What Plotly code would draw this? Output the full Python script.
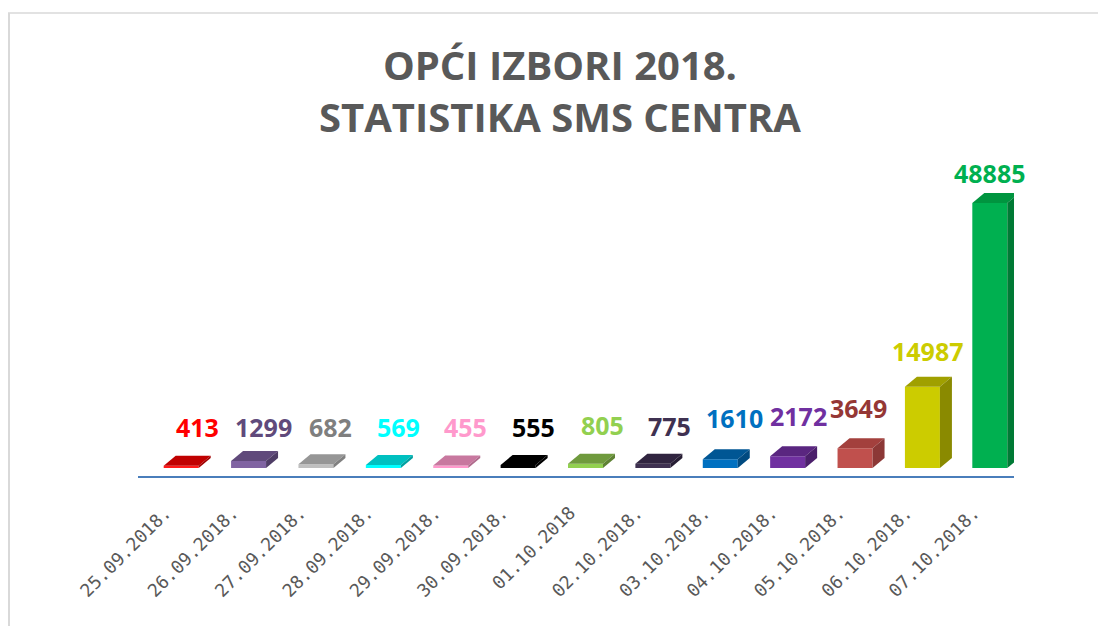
import plotly.graph_objects as go

# ---------------- data ----------------
dates = ["25.09.2018.", "26.09.2018.", "27.09.2018.", "28.09.2018.", "29.09.2018.",
         "30.09.2018.", "01.10.2018", "02.10.2018.", "03.10.2018.", "04.10.2018.",
         "05.10.2018.", "06.10.2018.", "07.10.2018."]
values = [413, 1299, 682, 569, 455, 555, 805, 775, 1610, 2172, 3649, 14987, 48885]
title_lines = ["OPĆI IZBORI 2018.", "STATISTIKA SMS CENTRA"]

# ---------------- styles ----------------
front_colors = ["#ff1a1a", "#8064a2", "#bfbfbf", "#00ffff", "#ff99cc", "#000000", "#92d050",
                "#3f3151", "#0070c0", "#7030a0", "#c0504d", "#cccc00", "#00b050"]
top_colors = ["#c00000", "#604a7b", "#969696", "#00c0c0", "#c8789f", "#000000", "#6f9a3d",
              "#30243f", "#005694", "#5a2680", "#a3403d", "#a0a000", "#00953f"]
side_colors = ["#a00000", "#4f3d66", "#808080", "#00a0a0", "#b06a8c", "#000000", "#5e8234",
               "#261d33", "#004a80", "#4b1f6b", "#8c3836", "#8a8a00", "#007a35"]
label_colors = ["#ff0000", "#604a7b", "#7f7f7f", "#00ffff", "#ff99cc", "#000000", "#92d050",
                "#3f3151", "#0070c0", "#7030a0", "#953735", "#cccc00", "#00b050"]
label_dx_px = [16, 15, 15, 15, 15, 15, 17, 17, 14, 11, 3, 5, 0]
label_gap_px = [27, 22, 25, 26, 27, 26, 27, 26, 29, 28, 28, 24, 18]

OFF = 8  # page body margin
W, H = 1106 - OFF, 626 - OFF
L_PX, R_PX = 138 - OFF, 1014 - OFF
T_PX, B_PX = 150 - OFF, 476 - OFF
PLOT_W = R_PX - L_PX
PLOT_H = B_PX - T_PX
N = len(dates)
PX_PER_CAT = PLOT_W / N
Y_PER_PX = 184.5
FLOOR_PX = 8
y0 = -FLOOR_PX * Y_PER_PX
y1 = y0 + PLOT_H * Y_PER_PX

BAR_SHIFT = 9.5 / PX_PER_CAT
BAR_W = 35 / PX_PER_CAT
DX = 12 / PX_PER_CAT
DY = 10 * Y_PER_PX

xs = list(range(N))

fig = go.Figure()
fig.add_trace(go.Bar(
    x=[x + BAR_SHIFT for x in xs], y=values, width=BAR_W,
    marker=dict(color=front_colors, line=dict(width=0)),
    hoverinfo="skip", showlegend=False,
))

shapes = []
for x, v, tc, sc in zip(xs, values, top_colors, side_colors):
    xa = x + BAR_SHIFT - BAR_W / 2
    xb = x + BAR_SHIFT + BAR_W / 2
    top = f"M {xa},{v} L {xb},{v} L {xb + DX},{v + DY} L {xa + DX},{v + DY} Z"
    side = f"M {xb},0 L {xb + DX},{DY} L {xb + DX},{v + DY} L {xb},{v} Z"
    shapes.append(dict(type="path", path=top, xref="x", yref="y",
                       fillcolor=tc, line=dict(width=0), layer="above"))
    shapes.append(dict(type="path", path=side, xref="x", yref="y",
                       fillcolor=sc, line=dict(width=0), layer="above"))


def px_x(p):
    return (p - OFF - L_PX) / PLOT_W


def px_y(p):
    return (B_PX - (p - OFF)) / PLOT_H


# chart frame (light gray border, top and left)
shapes.append(dict(type="line", xref="paper", yref="paper",
                   x0=px_x(9), x1=px_x(9), y0=px_y(13), y1=px_y(640),
                   line=dict(color="#d9d9d9", width=2)))
shapes.append(dict(type="line", xref="paper", yref="paper",
                   x0=px_x(8), x1=px_x(1120), y0=px_y(13), y1=px_y(13),
                   line=dict(color="#d9d9d9", width=1.5)))

annotations = []
for x, v, c, dxp, gp in zip(xs, values, label_colors, label_dx_px, label_gap_px):
    annotations.append(dict(
        x=x + BAR_SHIFT, y=v, xref="x", yref="y", text=str(v),
        showarrow=False, xanchor="center", yanchor="bottom",
        xshift=dxp, yshift=gp - 7,
        font=dict(family="Open Sans", size=25, color=c, weight="bold"),
    ))

annotations.append(dict(
    x=px_x(560), y=px_y(91), xref="paper", yref="paper",
    text="<br>".join(title_lines),
    showarrow=False, xanchor="center", yanchor="middle", align="center",
    font=dict(family="Open Sans", size=40, color="#595959", weight="bold"),
))

fig.update_layout(
    width=W, height=H,
    margin=dict(l=L_PX, r=W - R_PX, t=T_PX, b=H - B_PX),
    paper_bgcolor="white", plot_bgcolor="white",
    showlegend=False,
    shapes=shapes, annotations=annotations,
    xaxis=dict(
        range=[-0.5, N - 0.5], tickmode="array", tickvals=xs, ticktext=dates,
        tickangle=-45, showgrid=False, zeroline=False, ticks="",
        showline=True, linecolor="#4a7ebb", linewidth=2,
        tickfont=dict(family="DejaVu Sans Mono", size=18, color="#595959"),
        ticklabelstandoff=17, ticklabelshift=-6, fixedrange=True,
    ),
    yaxis=dict(range=[y0, y1], visible=False, fixedrange=True),
)

fig.write_html("out.html")
